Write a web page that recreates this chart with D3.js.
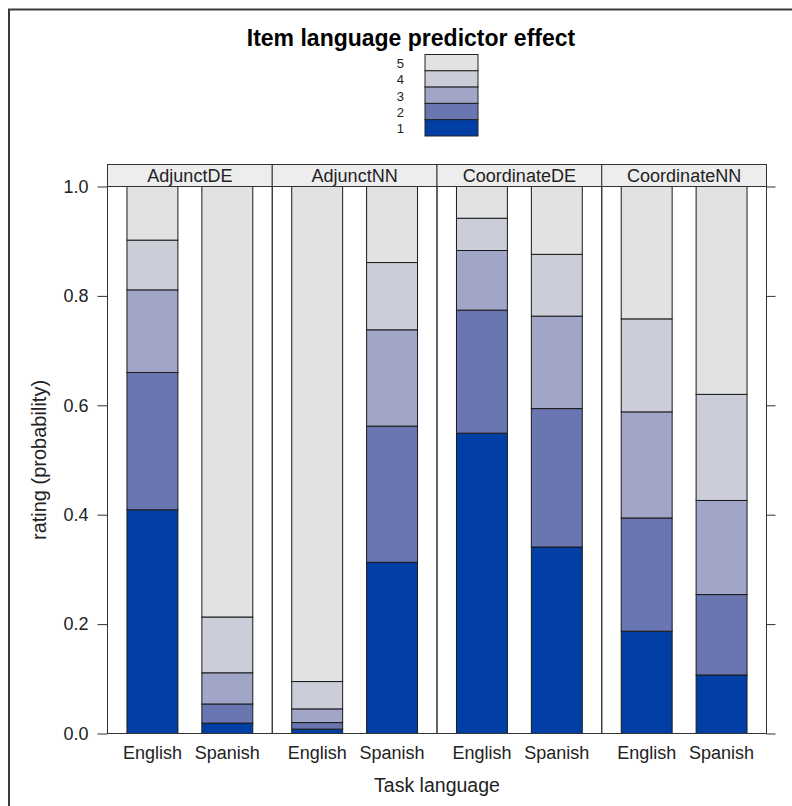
<!DOCTYPE html>
<html>
<head>
<meta charset="utf-8">
<script src="https://cdn.jsdelivr.net/npm/d3@7"></script>
<style>
  html, body { margin: 0; padding: 0; background: #fff; }
  svg { display: block; font-family: "Liberation Sans", Arial, sans-serif; }
</style>
</head>
<body>
<svg id="chart" width="792" height="806"></svg>
<script>
// Panels (sentence type) and bars (task language) within each panel
const panels = ["AdjunctDE", "AdjunctNN", "CoordinateDE", "CoordinateNN"];
const taskLanguages = ["English", "Spanish"];
const ratingLevels = ["1", "2", "3", "4", "5"];

// Predicted probability of each rating level, in panel order, English then Spanish
const rating1 = [0.409, 0.019, 0.008, 0.313, 0.549, 0.341, 0.187, 0.107];
const rating2 = [0.251, 0.035, 0.012, 0.249, 0.225, 0.253, 0.207, 0.147];
const rating3 = [0.151, 0.057, 0.025, 0.176, 0.109, 0.169, 0.194, 0.172];
const rating4 = [0.091, 0.102, 0.050, 0.123, 0.059, 0.113, 0.170, 0.194];
const rating5 = [0.098, 0.787, 0.905, 0.139, 0.058, 0.124, 0.242, 0.380];

const yTicks = [0, 0.2, 0.4, 0.6, 0.8, 1.0];
const levelColors = ["#023FA5", "#6A76B2", "#A1A6C8", "#CBCDD9", "#E2E2E2"];

// Build one row per bar
const seriesValues = [rating1, rating2, rating3, rating4, rating5];
const rows = [];
panels.forEach((p, pi) => {
  taskLanguages.forEach((lang, li) => {
    const row = { panel: p, lang: lang };
    ratingLevels.forEach((lev, k) => { row[lev] = seriesValues[k][pi * 2 + li]; });
    rows.push(row);
  });
});
const stacked = d3.stack().keys(ratingLevels)(rows);

const svg = d3.select("#chart");

// Outer frame
svg.append("path")
  .attr("d", "M9,806 L9,9.5 L792,9.5")
  .attr("fill", "none").attr("stroke", "#3a3a3a").attr("stroke-width", 2);

const plotLeft = 107.5, plotRight = 766.5, plotTop = 186.5, plotBottom = 733.5, stripH = 22;
const panelX = d3.scaleBand().domain(panels).range([plotLeft, plotRight]).paddingInner(0).paddingOuter(0);
const y = d3.scaleLinear().domain([0, 1]).range([plotBottom, plotTop]);
const xIn = d3.scalePoint().domain(taskLanguages).range([0, panelX.bandwidth()]).padding(0.6);
const step = panelX.bandwidth() / 2.2;
const barW = step * 0.68;
const color = d3.scaleOrdinal().domain(ratingLevels).range(levelColors);

// Title
svg.append("text")
  .attr("x", 411).attr("y", 46)
  .attr("text-anchor", "middle")
  .attr("font-size", 23).attr("font-weight", "bold").attr("fill", "#000")
  .text("Item language predictor effect");

// Legend (rating levels stacked, 1 at the bottom)
const legX = 425, legTop = 54.5, legH = 16.3, legW = 53;
const legend = svg.append("g");
ratingLevels.slice().reverse().forEach((lev, i) => {
  legend.append("rect")
    .attr("x", legX).attr("y", legTop + i * legH)
    .attr("width", legW).attr("height", legH)
    .attr("fill", color(lev)).attr("stroke", "#222").attr("stroke-width", 1);
  legend.append("text")
    .attr("x", 404).attr("y", legTop + i * legH + legH / 2 + 5.5)
    .attr("text-anchor", "end").attr("font-size", 13).attr("fill", "#222")
    .text(lev);
});

// Panels
panels.forEach(p => {
  const g = svg.append("g").attr("transform", `translate(${panelX(p)},0)`);
  // strip
  g.append("rect")
    .attr("x", 0).attr("y", plotTop - stripH)
    .attr("width", panelX.bandwidth()).attr("height", stripH)
    .attr("fill", "#EDEDED").attr("stroke", "#333").attr("stroke-width", 1);
  g.append("text")
    .attr("x", panelX.bandwidth() / 2).attr("y", plotTop - 4.5)
    .attr("text-anchor", "middle").attr("font-size", 18).attr("fill", "#222")
    .text(p);
  // bars
  stacked.forEach(layer => {
    layer.filter(d => d.data.panel === p).forEach(d => {
      g.append("rect")
        .attr("x", xIn(d.data.lang) - barW / 2)
        .attr("y", y(d[1]))
        .attr("width", barW)
        .attr("height", y(d[0]) - y(d[1]))
        .attr("fill", color(layer.key))
        .attr("stroke", "#1a1a1a").attr("stroke-width", 1);
    });
  });
  // panel box
  g.append("rect")
    .attr("x", 0).attr("y", plotTop)
    .attr("width", panelX.bandwidth()).attr("height", plotBottom - plotTop)
    .attr("fill", "none").attr("stroke", "#333").attr("stroke-width", 1);
  // x labels
  taskLanguages.forEach(lang => {
    g.append("text")
      .attr("x", xIn(lang)).attr("y", 759)
      .attr("text-anchor", "middle").attr("font-size", 18).attr("fill", "#222")
      .text(lang);
  });
});

// Left axis with labels, right axis ticks only
const yAxisL = d3.axisLeft(y).tickValues(yTicks).tickFormat(d3.format(".1f")).tickSize(10).tickPadding(9);
const gl = svg.append("g").attr("transform", `translate(${plotLeft},0)`).call(yAxisL);
gl.select(".domain").remove();
gl.selectAll(".tick line").attr("stroke", "#333");
gl.selectAll(".tick text").attr("font-size", 18).attr("fill", "#222").attr("font-family", "Liberation Sans, Arial, sans-serif");

const yAxisR = d3.axisRight(y).tickValues(yTicks).tickFormat("").tickSize(9);
const gr = svg.append("g").attr("transform", `translate(${plotRight},0)`).call(yAxisR);
gr.select(".domain").remove();
gr.selectAll(".tick line").attr("stroke", "#333");

// Axis titles
svg.append("text")
  .attr("transform", `translate(46,${(plotTop + plotBottom) / 2}) rotate(-90)`)
  .attr("text-anchor", "middle").attr("font-size", 20).attr("fill", "#222")
  .text("rating (probability)");
svg.append("text")
  .attr("x", (plotLeft + plotRight) / 2).attr("y", 792)
  .attr("text-anchor", "middle").attr("font-size", 19.5).attr("fill", "#222")
  .text("Task language");
</script>
</body>
</html>
